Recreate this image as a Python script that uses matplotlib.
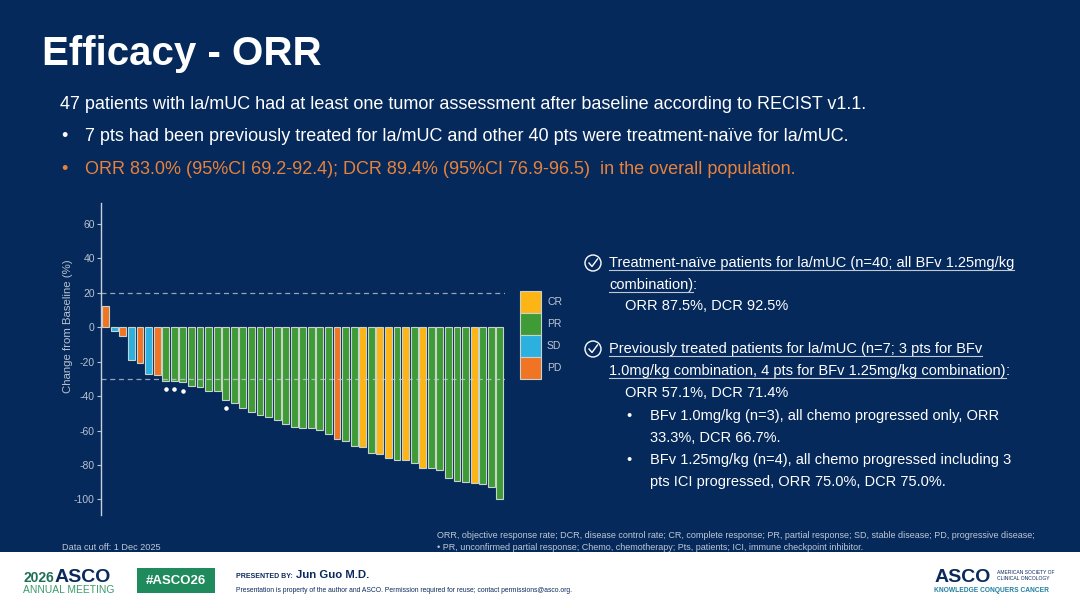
import matplotlib
matplotlib.use("Agg")
import matplotlib.pyplot as plt
from matplotlib.patches import Rectangle, Circle
from matplotlib.lines import Line2D

plt.rcParams['font.family'] = ['Liberation Sans', 'DejaVu Sans']

# ---------------- data ----------------
change_pct = [12, -2, -5, -19, -21, -27, -28, -31, -31, -32, -34, -35, -37, -37,
              -42, -44, -47, -49, -51, -52, -54, -56, -58, -58.5, -58.5, -59.5,
              -62, -65, -66, -69, -69.5, -73, -73.5, -76, -77, -77, -79, -82,
              -82, -83, -87.5, -89, -90, -90.5, -91, -93, -100]
response = ['PD', 'SD', 'PD', 'SD', 'PD', 'SD', 'PD'] + ['PR'] * 20 + \
           ['PD', 'PR', 'PR', 'CR', 'PR', 'CR', 'CR', 'PR', 'CR', 'PR', 'CR',
            'PR', 'PR', 'PR', 'PR', 'PR', 'CR', 'PR', 'PR', 'PR']
unconfirmed = [7, 8, 9, 14]          # patient indices marked with a dot (unconfirmed PR)
categories = ['CR', 'PR', 'SD', 'PD']
cat_colors = {'CR': '#FDB515', 'PR': '#3E9B35', 'SD': '#2BB0E0', 'PD': '#F07423'}
y_ticks = [60, 40, 20, 0, -20, -40, -60, -80, -100]
ref_lines = [20, -30]

BG = '#05295b'
W, H = 1080, 608
fig = plt.figure(figsize=(W / 100, H / 100), dpi=100, facecolor=BG)


def fr(x0, y0, x1, y1):
    """pixel box (top-left origin) -> figure fraction rect"""
    return [x0 / W, 1 - y1 / H, (x1 - x0) / W, (y1 - y0) / H]


# overlay in pixel coordinates
ov = fig.add_axes([0, 0, 1, 1])
ov.set_xlim(0, W)
ov.set_ylim(H, 0)
ov.axis('off')

# ---------------- chart ----------------
ax = fig.add_axes(fr(101, 203, 505, 515))
ax.set_facecolor('none')
xs = list(range(len(change_pct)))
ax.bar(xs, change_pct, width=0.8,
       color=[cat_colors[r] for r in response],
       edgecolor='#c9d3cc', linewidth=0.8, zorder=3)
for yl in ref_lines:
    ax.axhline(yl, color='#c8d0dc', lw=0.9, ls=(0, (4, 3)), alpha=0.75, zorder=4)
ax.scatter([xs[i] for i in unconfirmed], [change_pct[i] - 5 for i in unconfirmed],
           s=5, color='white', zorder=4)
ax.set_xlim(-0.55, len(change_pct) - 0.4)
ax.set_ylim(-109, 72)
ax.set_yticks(y_ticks)
ax.set_yticklabels([str(t) for t in y_ticks])
ax.tick_params(axis='y', colors='#b8c2d0', labelsize=7.5, length=3, width=0.8, pad=1.5)
ax.set_xticks([])
for s in ['top', 'right', 'bottom']:
    ax.spines[s].set_visible(False)
ax.spines['left'].set_color('#c8d0dc')
ax.spines['left'].set_linewidth(1.0)
ax.set_ylabel('Change from Baseline (%)', color='#b8c2d0', fontsize=8.2)
ax.yaxis.set_label_coords(-0.069, 0.606)

# legend
ly0, lh = 291, 22
for i, c in enumerate(categories):
    ov.add_patch(Rectangle((520, ly0 + i * lh), 21, lh, facecolor=cat_colors[c],
                           edgecolor='#c9d3cc', lw=0.8))
    ov.text(547, ly0 + i * lh + lh / 2, c, color='#c0c8d4', fontsize=7.5, va='center')

# ---------------- text ----------------
BT = 13.0
ov.text(42, 65, 'Efficacy - ORR', color='white', fontsize=29, fontweight='bold', va='baseline')
ov.text(60, 109, '47 patients with la/mUC had at least one tumor assessment after baseline according to RECIST v1.1.',
        color='white', fontsize=BT, va='baseline')
ov.text(61, 141, '•', color='white', fontsize=BT, va='baseline')
ov.text(85, 141, '7 pts had been previously treated for la/mUC and other 40 pts were treatment-naïve for la/mUC.',
        color='white', fontsize=BT, va='baseline')
ov.text(61, 174, '•', color='#E8823A', fontsize=BT, va='baseline')
ov.text(85, 174, 'ORR 83.0% (95%CI 69.2-92.4); DCR 89.4% (95%CI 76.9-96.5)  in the overall population.',
        color='#E8823A', fontsize=BT, va='baseline')

RT = 10.5
underlined = []
colon_after = []
underlined.append(ov.text(609, 267, 'Treatment-naïve patients for la/mUC (n=40; all BFv 1.25mg/kg',
                          color='white', fontsize=RT, va='baseline'))
t = ov.text(609, 289, 'combination)', color='white', fontsize=RT, va='baseline')
underlined.append(t)
colon_after.append(t)
ov.text(625, 310, 'ORR 87.5%, DCR 92.5%', color='white', fontsize=RT, va='baseline')
underlined.append(ov.text(609, 353, 'Previously treated patients for la/mUC (n=7; 3 pts for BFv',
                          color='white', fontsize=RT, va='baseline'))
t = ov.text(609, 375, '1.0mg/kg combination, 4 pts for BFv 1.25mg/kg combination)',
            color='white', fontsize=RT, va='baseline')
underlined.append(t)
colon_after.append(t)
ov.text(625, 397, 'ORR 57.1%, DCR 71.4%', color='white', fontsize=RT, va='baseline')
for yb, txt, bullet in [(420, 'BFv 1.0mg/kg (n=3), all chemo progressed only, ORR', True),
                        (442, '33.3%, DCR 66.7%.', False),
                        (464, 'BFv 1.25mg/kg (n=4), all chemo progressed including 3', True),
                        (486, 'pts ICI progressed, ORR 75.0%, DCR 75.0%.', False)]:
    if bullet:
        ov.text(626, yb, '•', color='white', fontsize=RT, va='baseline')
    ov.text(650, yb, txt, color='white', fontsize=RT, va='baseline')

# check icons
for cy in [263, 349]:
    ov.add_patch(Circle((593, cy), 8, facecolor='none', edgecolor='white', lw=1.0))
    ov.add_line(Line2D([589, 592, 597.5], [cy, cy + 3.5, cy - 4], color='white', lw=1.0))

# footnotes
ov.text(62, 547, 'Data cut off: 1 Dec 2025', color='#c0c8d4', fontsize=6.6, va='center')
ov.text(437, 536, 'ORR, objective response rate; DCR, disease control rate; CR, complete response; PR, partial response; SD, stable disease; PD, progressive disease;',
        color='#c0c8d4', fontsize=6.5, va='center')
ov.text(437, 547, '• PR, unconfirmed partial response; Chemo, chemotherapy; Pts, patients; ICI, immune checkpoint inhibitor.',
        color='#c0c8d4', fontsize=6.5, va='center')

# ---------------- footer band ----------------
NAVY = '#0b2a5c'
ov.add_patch(Rectangle((0, 552), W, H - 552, facecolor='white', edgecolor='none'))
ov.text(23, 582, '2026', color='#1f6f57', fontsize=10, fontweight='bold', va='baseline')
ov.text(55, 582, 'ASCO', color=NAVY, fontsize=14, fontweight='bold', va='baseline')
ov.text(23, 590, 'ANNUAL MEETING', color='#3d9a6a', fontsize=7.4, va='center')
ov.add_patch(Rectangle((137, 568), 78, 25, facecolor='#1f8a5b', edgecolor='none'))
ov.text(176, 580.5, '#ASCO26', color='white', fontsize=9.5, fontweight='bold', ha='center', va='center')
ov.text(236, 576, 'PRESENTED BY:', color=NAVY, fontsize=5.0, fontweight='bold', va='center')
ov.text(296, 575, 'Jun Guo M.D.', color=NAVY, fontsize=8.2, fontweight='bold', va='center')
ov.text(236, 591, 'Presentation is property of the author and ASCO. Permission required for reuse; contact permissions@asco.org.',
        color=NAVY, fontsize=4.9, va='center')
ov.text(935, 582, 'ASCO', color=NAVY, fontsize=14, fontweight='bold', va='baseline')
ov.text(997, 573, 'AMERICAN SOCIETY OF', color=NAVY, fontsize=3.6, va='center')
ov.text(997, 579, 'CLINICAL ONCOLOGY', color=NAVY, fontsize=3.6, va='center')
ov.text(934, 590, 'KNOWLEDGE CONQUERS CANCER', color='#1f7fa0', fontsize=4.8, fontweight='bold', va='center')

# underlines and trailing colons
fig.canvas.draw()
r = fig.canvas.get_renderer()
inv = ov.transData.inverted()
for t in underlined:
    bb = t.get_window_extent(r)
    (x0, _), (x1, _) = inv.transform([(bb.x0, bb.y0), (bb.x1, bb.y0)])
    yb = t.get_position()[1] + 2.5
    ov.add_line(Line2D([x0, x1], [yb, yb], color='#c0c8d4', lw=0.8))
for t in colon_after:
    bb = t.get_window_extent(r)
    x1 = inv.transform([(bb.x1, bb.y0)])[0][0]
    ov.text(x1, t.get_position()[1], ':', color='white', fontsize=RT, va='baseline')

fig.savefig('out.png', dpi=100, facecolor=BG)
